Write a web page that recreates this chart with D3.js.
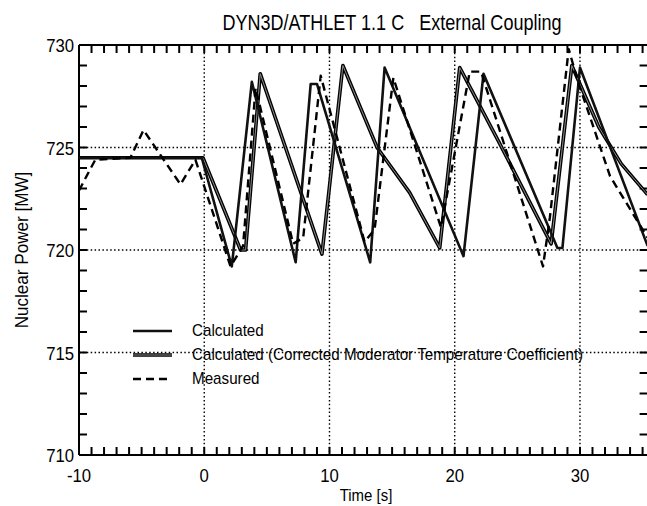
<!DOCTYPE html>
<html>
<head>
<meta charset="utf-8">
<script src="https://cdn.jsdelivr.net/npm/d3@7"></script>
<style>
  html, body { margin: 0; padding: 0; background: #fff; }
  svg { display: block; }
  text { font-family: "Liberation Sans", Arial, Helvetica, sans-serif; fill: #000; white-space: pre; }
</style>
</head>
<body>
<svg id="chart" width="647" height="506"></svg>
<script>
// Nuclear power transient, DYN3D/ATHLET external coupling vs. measurement

// Calculated
const calcTime  = [-10, -0.2, 2.2, 3.8, 7.3, 8.5, 9.0, 13.25, 14.4, 20.7, 22.3, 28.2, 28.6, 30.0, 35.4];
const calcPower = [724.5, 724.5, 719.2, 728.2, 719.4, 728.1, 728.1, 719.4, 728.9, 719.7, 728.6, 720.1, 720.1, 728.9, 720.2];

// Calculated (corrected moderator temperature coefficient)
const corrTime  = [-10, -0.1, 2.9, 3.3, 4.47, 9.4, 11.07, 13.8, 16.4, 18.8, 20.4, 23.5, 27.7, 29.35, 31.5, 33.3, 35.4];
const corrPower = [724.5, 724.5, 720.0, 720.0, 728.6, 719.8, 729.0, 725.0, 722.8, 720.1, 728.9, 725.3, 720.3, 729.0, 726.0, 724.2, 722.7];

// Measured
const measTime  = [-10, -9.4, -8.7, -5.9, -4.85, -1.9, -0.7, 2.1, 3.1, 4.1, 7.1, 7.9, 9.3, 12.8, 13.6, 15.1, 18.9, 21.2, 22.1, 27.05, 27.6, 29.1, 29.8, 32.4, 33.7, 35.4];
const measPower = [722.9, 723.6, 724.4, 724.5, 725.85, 723.2, 724.4, 719.2, 720.2, 727.9, 720.3, 720.6, 728.5, 720.4, 721.0, 728.4, 721.1, 728.7, 728.7, 719.2, 721.6, 729.8, 728.3, 723.6, 722.3, 720.6];

// Axes
const timeDomain  = [-10, 35.4];
const powerDomain = [710, 730];
const xTickLabels = [-10, 0, 10, 20, 30];
const yTickLabels = [710, 715, 720, 725, 730];
const xGrid = [0, 10, 20, 30];
const yGrid = [715, 720, 725];

const legendLabels = [
  "Calculated",
  "Calculated (Corrected Moderator Temperature Coefficient)",
  "Measured"
];

const svg = d3.select("#chart");
const pLeft = 79, pRight = 647.6, pTop = 45, pBottom = 455;

const x = d3.scaleLinear().domain(timeDomain).range([pLeft, pRight]);
const y = d3.scaleLinear().domain(powerDomain).range([pBottom, pTop]);

svg.append("defs").append("clipPath").attr("id", "plotClip")
  .append("rect").attr("x", pLeft).attr("y", pTop - 2)
  .attr("width", pRight - pLeft).attr("height", pBottom - pTop + 4);

// Condensed text helper: horizontal squeeze around the anchor point
function condensedText(parent, tx, ty, str, size, sx, anchor, rot) {
  return parent.append("text")
    .attr("transform", `translate(${tx},${ty})` + (rot ? ` rotate(${rot})` : "") + ` scale(${sx},1)`)
    .attr("text-anchor", anchor)
    .attr("font-size", size)
    .text(str);
}

// Title
condensedText(svg, 392, 30, "DYN3D/ATHLET 1.1 C   External Coupling", 22, 0.82, "middle");

// Dotted grid
const grid = svg.append("g").attr("stroke", "#000").attr("stroke-width", 1.4)
  .attr("stroke-dasharray", "1.5,2.4");
grid.selectAll("line.gx").data(xGrid).join("line")
  .attr("x1", d => x(d)).attr("x2", d => x(d))
  .attr("y1", pTop).attr("y2", pBottom);
grid.selectAll("line.gy").data(yGrid).join("line")
  .attr("x1", pLeft).attr("x2", pRight)
  .attr("y1", d => y(d)).attr("y2", d => y(d));

// Inward ticks on all four sides, one per second and one per MW
const minorX = d3.range(-10, 36, 1);
const minorY = d3.range(710, 731, 1);
const ticks = svg.append("g").attr("stroke", "#000").attr("stroke-width", 2);
ticks.selectAll("line.tb").data(minorX).join("line").attr("class", "tb")
  .attr("x1", d => x(d)).attr("x2", d => x(d))
  .attr("y1", pBottom).attr("y2", pBottom - 8);
ticks.selectAll("line.tt").data(minorX).join("line").attr("class", "tt")
  .attr("x1", d => x(d)).attr("x2", d => x(d))
  .attr("y1", pTop).attr("y2", pTop + 8);
ticks.selectAll("line.tl").data(minorY).join("line").attr("class", "tl")
  .attr("x1", pLeft).attr("x2", pLeft + 8)
  .attr("y1", d => y(d)).attr("y2", d => y(d));
ticks.selectAll("line.tr").data(minorY).join("line").attr("class", "tr")
  .attr("x1", pRight).attr("x2", pRight - 8)
  .attr("y1", d => y(d)).attr("y2", d => y(d));

const frame = svg.append("g").attr("stroke", "#000").attr("fill", "none");
frame.append("line").attr("x1", pLeft).attr("x2", pRight).attr("y1", pTop).attr("y2", pTop).attr("stroke-width", 2);
frame.append("line").attr("x1", pLeft).attr("x2", pRight).attr("y1", pBottom).attr("y2", pBottom).attr("stroke-width", 2);
frame.append("line").attr("x1", pLeft).attr("x2", pLeft).attr("y1", pTop).attr("y2", pBottom).attr("stroke-width", 2);

// Tick labels
const xLab = svg.append("g");
xTickLabels.forEach(d => condensedText(xLab, x(d), 482, String(d), 19, 0.88, "middle"));
const yLab = svg.append("g");
yTickLabels.forEach(d => condensedText(yLab, 74, y(d) + 7, String(d), 19, 0.88, "end"));

// Axis titles
condensedText(svg, 366, 501, "Time [s]", 17, 0.88, "middle");
condensedText(svg, 28, (pTop + pBottom) / 2, "Nuclear Power [MW]", 18, 0.95, "middle", -90);

// Series
const line = d3.line().x(d => x(d[0])).y(d => y(d[1]));
const plot = svg.append("g").attr("clip-path", "url(#plotClip)").attr("fill", "none")
  .attr("stroke-linejoin", "round");

const corrData = d3.zip(corrTime, corrPower);
const calcData = d3.zip(calcTime, calcPower);
const measData = d3.zip(measTime, measPower);

plot.append("path").datum(corrData).attr("d", line)
  .attr("stroke", "#000").attr("stroke-width", 3.6);
plot.append("path").datum(corrData).attr("d", line)
  .attr("stroke", "#8c8c8c").attr("stroke-width", 1);
plot.append("path").datum(calcData).attr("d", line)
  .attr("stroke", "#111").attr("stroke-width", 2.6);
plot.append("path").datum(measData).attr("d", line)
  .attr("stroke", "#000").attr("stroke-width", 2.4).attr("stroke-dasharray", "8,5");

// Legend
const legendY = [331, 355, 379];
const lg = svg.append("g");
const lx1 = 133, lx2 = 172;
lg.append("line").attr("x1", lx1).attr("x2", lx2).attr("y1", legendY[0]).attr("y2", legendY[0])
  .attr("stroke", "#111").attr("stroke-width", 2.6);
lg.append("line").attr("x1", lx1).attr("x2", lx2).attr("y1", legendY[1]).attr("y2", legendY[1])
  .attr("stroke", "#000").attr("stroke-width", 3.6);
lg.append("line").attr("x1", lx1).attr("x2", lx2).attr("y1", legendY[1]).attr("y2", legendY[1])
  .attr("stroke", "#8c8c8c").attr("stroke-width", 1);
lg.append("line").attr("x1", lx1).attr("x2", lx2).attr("y1", legendY[2]).attr("y2", legendY[2])
  .attr("stroke", "#000").attr("stroke-width", 2.4).attr("stroke-dasharray", "8,5");
legendLabels.forEach((d, i) => condensedText(lg, 192, legendY[i] + 5, d, 16, 0.95, "start"));
</script>
</body>
</html>
